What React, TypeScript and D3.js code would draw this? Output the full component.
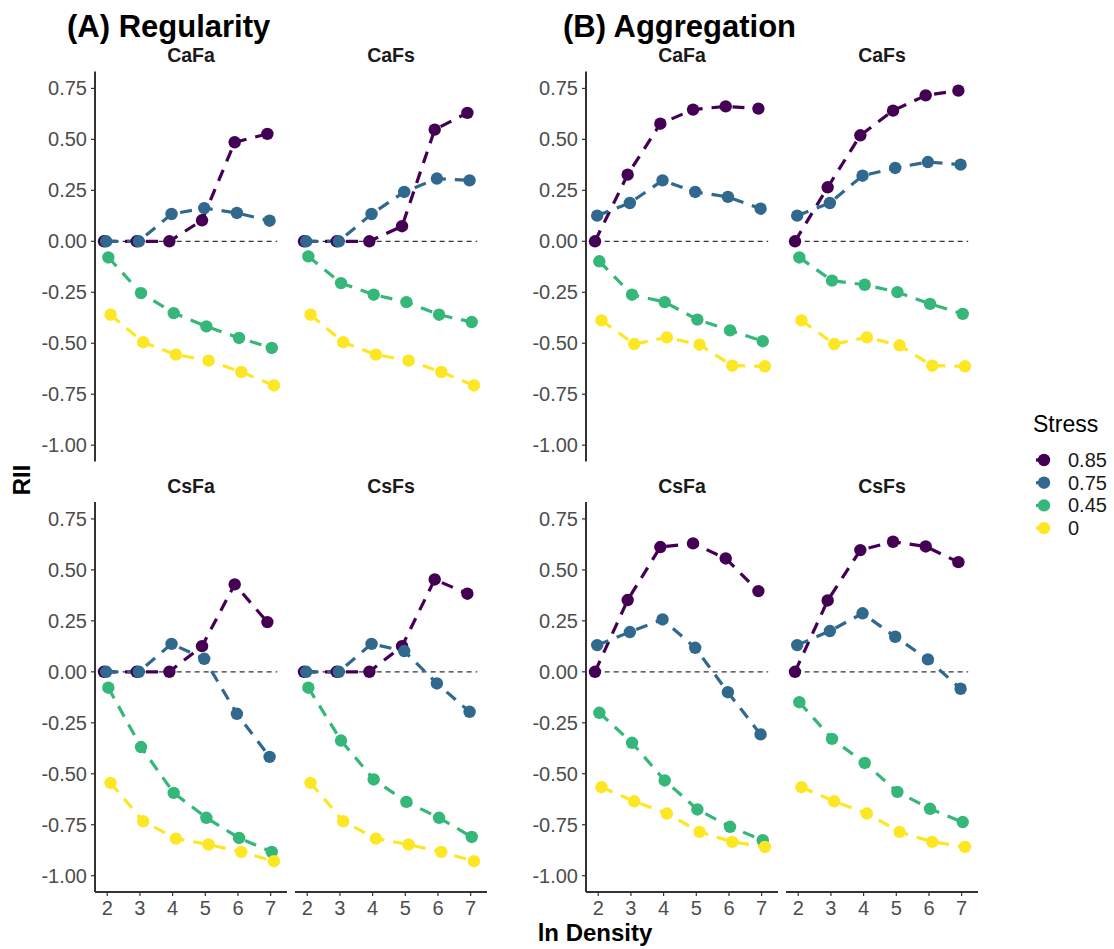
import React from "react";
import * as d3 from "d3";

// ---------- DATA ----------
const densities = [2, 3, 4, 5, 6, 7];
const stressLevels = ["0.85", "0.75", "0.45", "0"];
const stressColors = ["#440154", "#31688E", "#35B779", "#FDE725"];
const yTicks = [0.75, 0.5, 0.25, 0, -0.25, -0.5, -0.75, -1.0];
const facetNames = ["CaFa", "CaFs", "CsFa", "CsFs"];
const panelTitles = ["(A) Regularity", "(B) Aggregation"];

// rows: stress 0.85, 0.75, 0.45, 0 ; columns: ln density 2..7
const regCaFa = [
  [0, 0, 0, 0.103, 0.486, 0.527],
  [0, 0, 0.134, 0.163, 0.139, 0.101],
  [-0.079, -0.254, -0.352, -0.417, -0.474, -0.523],
  [-0.36, -0.495, -0.556, -0.585, -0.641, -0.707],
];
const regCaFs = [
  [0, 0, 0, 0.074, 0.548, 0.63],
  [0, 0, 0.134, 0.242, 0.308, 0.299],
  [-0.074, -0.205, -0.262, -0.298, -0.36, -0.396],
  [-0.36, -0.495, -0.556, -0.585, -0.641, -0.707],
];
const regCsFa = [
  [0, 0, 0, 0.126, 0.429, 0.244],
  [0, 0, 0.137, 0.064, -0.206, -0.417],
  [-0.078, -0.369, -0.594, -0.716, -0.815, -0.883],
  [-0.545, -0.733, -0.818, -0.847, -0.883, -0.929],
];
const regCsFs = [
  [0, 0, 0, 0.126, 0.453, 0.383],
  [0, 0, 0.137, 0.102, -0.057, -0.196],
  [-0.078, -0.337, -0.528, -0.638, -0.716, -0.81],
  [-0.545, -0.733, -0.818, -0.847, -0.883, -0.929],
];
const aggCaFa = [
  [0, 0.327, 0.577, 0.646, 0.662, 0.651],
  [0.126, 0.188, 0.299, 0.242, 0.218, 0.16],
  [-0.098, -0.262, -0.298, -0.384, -0.437, -0.49],
  [-0.388, -0.504, -0.471, -0.507, -0.61, -0.613],
];
const aggCaFs = [
  [0, 0.265, 0.52, 0.641, 0.716, 0.739],
  [0.126, 0.188, 0.322, 0.36, 0.389, 0.376],
  [-0.079, -0.193, -0.213, -0.249, -0.307, -0.356],
  [-0.388, -0.504, -0.471, -0.51, -0.61, -0.613],
];
const aggCsFa = [
  [0, 0.352, 0.612, 0.63, 0.556, 0.396],
  [0.131, 0.195, 0.257, 0.118, -0.1, -0.307],
  [-0.201, -0.348, -0.533, -0.675, -0.76, -0.826],
  [-0.566, -0.635, -0.695, -0.785, -0.834, -0.859],
];
const aggCsFs = [
  [0, 0.35, 0.597, 0.638, 0.615, 0.538],
  [0.131, 0.2, 0.287, 0.172, 0.061, -0.083],
  [-0.149, -0.329, -0.447, -0.589, -0.672, -0.737],
  [-0.566, -0.635, -0.695, -0.785, -0.834, -0.859],
];

const panelData = [
  [regCaFa, regCaFs, regCsFa, regCsFs],
  [aggCaFa, aggCaFs, aggCsFa, aggCsFs],
];

// ---------- LAYOUT ----------
const FONT = "'Liberation Sans', Arial, Helvetica, sans-serif";
const facetW = 192;
const facetH = 390;
const facetGap = 8;
const panelLeft = [95, 586];
const titleX = [67, 563];
const rowTop = [71.5, 502];
const dodge = [-0.1, -0.033, 0.033, 0.1];
const R = 6.2;

const x = d3.scaleLinear().domain([1.625, 7.5]).range([0, facetW]);
const y = d3.scaleLinear().domain([-1.08, 0.833]).range([facetH, 0]);

const line = d3
  .line<[number, number]>()
  .x((d) => x(d[0]))
  .y((d) => y(d[1]));

function Facet({ data, name, showX, showY }: any) {
  return (
    <g>
      <text
        x={facetW / 2}
        y={-9.5}
        textAnchor="middle"
        fontFamily={FONT}
        fontWeight="bold"
        fontSize={19.5}
        fill="#1a1a1a"
      >
        {name}
      </text>
      <line
        x1={x(1.92)}
        x2={x(7.2)}
        y1={y(0)}
        y2={y(0)}
        stroke="#333"
        strokeWidth={1.2}
        strokeDasharray="5 4"
      />
      {data.map((series: number[], si: number) => (
        <path
          key={"l" + si}
          d={line(series.map((v, i) => [densities[i] + dodge[si], v]) as [number, number][]) || ""}
          fill="none"
          stroke={stressColors[si]}
          strokeWidth={3.2}
          strokeDasharray="12 9"
        />
      ))}
      {data.map((series: number[], si: number) =>
        series.map((v, i) => (
          <circle
            key={"p" + si + "-" + i}
            cx={x(densities[i] + dodge[si])}
            cy={y(v)}
            r={R}
            fill={stressColors[si]}
          />
        ))
      )}
      {showY && (
        <g>
          <line x1={0} x2={0} y1={0} y2={facetH} stroke="#333" strokeWidth={2} />
          {yTicks.map((t) => (
            <g key={t}>
              <line x1={-4} x2={0} y1={y(t)} y2={y(t)} stroke="#333" strokeWidth={1.2} />
              <text
                x={-8}
                y={y(t)}
                dy="0.35em"
                textAnchor="end"
                fontFamily={FONT}
                fontSize={20}
                fill="#4D4D4D"
              >
                {t.toFixed(2)}
              </text>
            </g>
          ))}
        </g>
      )}
      {showX && (
        <g>
          <line x1={0} x2={facetW} y1={facetH} y2={facetH} stroke="#333" strokeWidth={2} />
          {densities.map((t) => (
            <g key={t}>
              <line x1={x(t)} x2={x(t)} y1={facetH} y2={facetH + 4} stroke="#333" strokeWidth={1.2} />
              <text
                x={x(t)}
                y={facetH + 23}
                textAnchor="middle"
                fontFamily={FONT}
                fontSize={20}
                fill="#4D4D4D"
              >
                {t}
              </text>
            </g>
          ))}
        </g>
      )}
    </g>
  );
}

export default function App() {
  return (
    <svg
      width={1114}
      height={949}
      style={{ position: "absolute", left: 0, top: 0, background: "#fff" }}
    >
      <rect width={1114} height={949} fill="#fff" />
      {panelData.map((facets, pi) => (
        <g key={pi}>
          <text
            x={titleX[pi]}
            y={37}
            fontFamily={FONT}
            fontWeight="bold"
            fontSize={31}
            fill="#000"
          >
            {panelTitles[pi]}
          </text>
          {facets.map((fd, fi) => {
            const col = fi % 2;
            const row = Math.floor(fi / 2);
            const tx = panelLeft[pi] + col * (facetW + facetGap);
            const ty = rowTop[row];
            return (
              <g key={fi} transform={`translate(${tx},${ty})`}>
                <Facet data={fd} name={facetNames[fi]} showX={row === 1} showY={col === 0} />
              </g>
            );
          })}
        </g>
      ))}
      <text
        transform="translate(30,480) rotate(-90)"
        textAnchor="middle"
        fontFamily={FONT}
        fontWeight="bold"
        fontSize={24}
        fill="#000"
      >
        RII
      </text>
      <text
        x={595}
        y={941}
        textAnchor="middle"
        fontFamily={FONT}
        fontWeight="bold"
        fontSize={24}
        fill="#000"
      >
        ln Density
      </text>
      <g>
        <text x={1033} y={432} fontFamily={FONT} fontSize={23} fill="#000">
          Stress
        </text>
        {stressLevels.map((s, i) => {
          const cy = 460 + i * 22.7;
          return (
            <g key={s}>
              <line x1={1036} x2={1046} y1={cy} y2={cy} stroke={stressColors[i]} strokeWidth={3.2} />
              <circle cx={1044} cy={cy} r={R} fill={stressColors[i]} />
              <text x={1068} y={cy} dy="0.35em" fontFamily={FONT} fontSize={20} fill="#1a1a1a">
                {s}
              </text>
            </g>
          );
        })}
      </g>
    </svg>
  );
}
